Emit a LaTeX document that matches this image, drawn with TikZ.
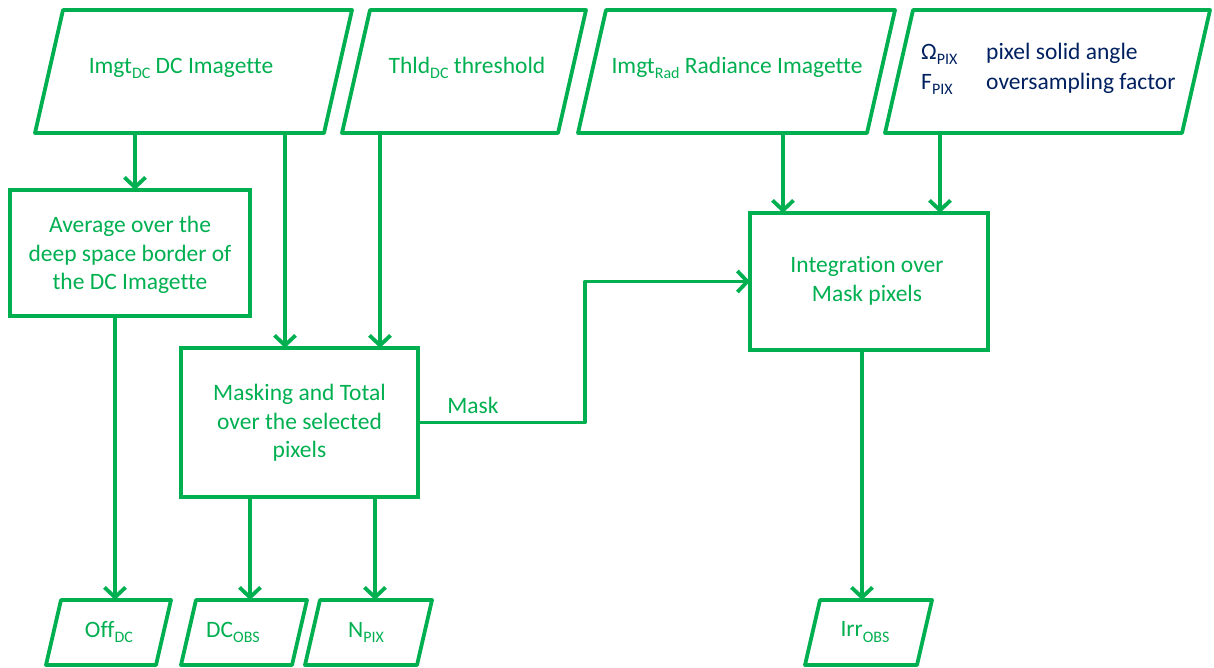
\documentclass[tikz,border=0pt]{standalone}
\usepackage{fontspec}
\setmainfont{Carlito}[Ligatures=NoCommon]
\usetikzlibrary{arrows.meta,calc}
\definecolor{gr}{RGB}{0,176,80}
\definecolor{nv}{RGB}{0,32,96}
\newcommand\sbs[1]{\raisebox{-0.45ex}{\fontsize{16}{16}\selectfont #1}}
\begin{document}
\begin{tikzpicture}[x=1pt,y=-1pt,
 box/.style={draw=gr, line width=3.8pt, line join=round},
 area/.style={inner sep=0pt, outer sep=0pt, draw=none},
 rbox/.style={draw=gr, line width=3.8pt, inner sep=0pt, outer sep=0pt},
 txt/.style={text=gr, font=\fontsize{23.5}{28.5}\selectfont, align=center, inner sep=0pt},
 arr/.style={draw=gr, line width=3.8pt, -{Straight Barb[length=10pt,width=21pt]}}]
\useasboundingbox (0,0) rectangle (1214,667);
% top input parallelograms
\node[area, minimum width=317pt, minimum height=123pt] (i1) at (193.5,71.5) {};
\node[area, minimum width=244pt, minimum height=123pt] (i2) at (464,71.5) {};
\node[area, minimum width=317pt, minimum height=123pt] (i3) at (736.5,71.5) {};
\node[area, minimum width=325pt, minimum height=123pt] (i4) at (1047.5,71.5) {};
\foreach \n in {i1,i2,i3,i4}{
  \draw[box] ([xshift=28pt]\n.north west) -- (\n.north east) -- ([xshift=-28pt]\n.south east) -- (\n.south west) -- cycle;
}
\node[txt] (i1t) at (181,68) {Imgt\sbs{DC} DC Imagette};
\node[txt] (i2t) at (467,68) {Thld\sbs{DC} threshold};
\node[txt] (i3t) at (737,68) {Imgt\sbs{Rad} Radiance Imagette};
\node[txt, text=nv, anchor=west, font=\fontsize{23.5}{30}\selectfont] (i4t) at (921,68)
  {\begin{tabular}{@{}p{65pt}@{}l@{}}Ω\sbs{PIX} & pixel solid angle\\ F\sbs{PIX} & oversampling factor\end{tabular}};
% process boxes
\node[rbox, minimum width=240pt, minimum height=126pt] (avg) at (130,253) {};
\node[txt] at (130,255) {Average over the\\deep space border of\\the DC Imagette};
\node[rbox, minimum width=237pt, minimum height=149pt] (mask) at (299.5,422.5) {};
\node[txt] at (299.5,423) {Masking and Total\\over the selected\\pixels};
\node[rbox, minimum width=238pt, minimum height=137pt] (integ) at (869,281.5) {};
\node[txt] at (867,281) {Integration over\\Mask pixels};
% outputs
\node[area, minimum width=125pt, minimum height=65pt] (o1) at (108.5,632.5) {};
\node[area, minimum width=126pt, minimum height=65pt] (o2) at (244,632.5) {};
\node[area, minimum width=127pt, minimum height=65pt] (o3) at (368.5,632.5) {};
\node[area, minimum width=127pt, minimum height=65pt] (o4) at (868.5,632.5) {};
\foreach \n in {o1,o2,o3,o4}{
  \draw[box] ([xshift=15pt]\n.north west) -- (\n.north east) -- ([xshift=-15pt]\n.south east) -- (\n.south west) -- cycle;
}
\node[txt] (o1t) at (109,632) {Off\sbs{DC}};
\node[txt] (o2t) at (233,632) {DC\sbs{OBS}};
\node[txt] (o3t) at (366,632) {N\sbs{PIX}};
\node[txt] (o4t) at (865,632) {Irr\sbs{OBS}};
% x positions of connectors
\coordinate (x135) at (135,0);
\coordinate (x285) at (285,0);
\coordinate (x380) at (380,0);
\coordinate (x783) at (783,0);
\coordinate (x940) at (940,0);
\coordinate (x115) at (115,0);
\coordinate (x250) at (250,0);
\coordinate (x375) at (375,0);
\coordinate (x862) at (862,0);
\coordinate (x585) at (585,0);
% connectors
\draw[arr] (i1.south -| x135) -- (avg.north -| x135);
\draw[arr] (i1.south -| x285) -- (mask.north -| x285);
\draw[arr] (i2.south -| x380) -- (mask.north -| x380);
\draw[arr] (i3.south -| x783) -- (integ.north -| x783);
\draw[arr] (i4.south -| x940) -- (integ.north -| x940);
\draw[arr] (avg.south -| x115) -- (o1.north -| x115);
\draw[arr] (mask.south -| x250) -- (o2.north -| x250);
\draw[arr] (mask.south -| x375) -- (o3.north -| x375);
\draw[arr] (integ.south -| x862) -- (o4.north -| x862);
\draw[arr, line join=round] (mask.east) -- (mask.east -| x585) |- (integ.west);
\node[txt] (ml) at (473,405) {Mask};
\end{tikzpicture}
\end{document}
